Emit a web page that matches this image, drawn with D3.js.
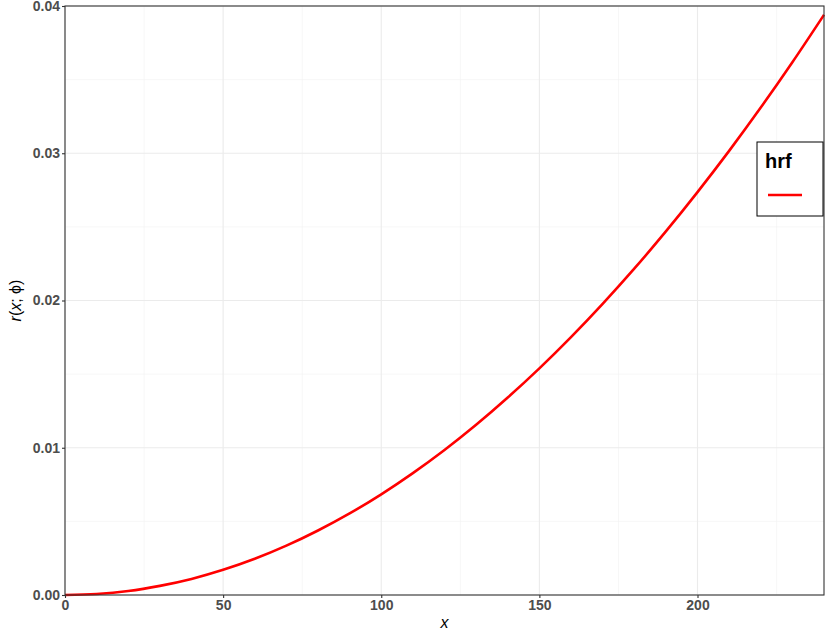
<!DOCTYPE html>
<html>
<head>
<meta charset="utf-8">
<script src="https://cdn.jsdelivr.net/npm/d3@7"></script>
<style>
  body { margin: 0; background: #fff; }
  svg { display: block; font-family: "Liberation Sans", Arial, sans-serif; }
</style>
</head>
<body>
<div id="chart"></div>
<script>
// values
const xs = [0, 10, 20, 30, 40, 50, 60, 70, 80, 90, 100, 110, 120,
  130, 140, 150, 160, 170, 180, 190, 200, 210, 220, 230, 240];
const hrf = [0, 0.00007, 0.00027, 0.00062, 0.00109, 0.00171, 0.00246, 0.00335,
  0.00438, 0.00554, 0.00684, 0.00828, 0.00985, 0.01156, 0.01341, 0.01539,
  0.01751, 0.01977, 0.02216, 0.02469, 0.02736, 0.03016, 0.0331, 0.03618, 0.0394];
const xTicks = [0, 50, 100, 150, 200];
const xMinor = [25, 75, 125, 175, 225];
const yTicks = [0, 0.01, 0.02, 0.03, 0.04];
const yMinor = [0.005, 0.015, 0.025, 0.035];
const legendTitle = 'hrf';

const W = 830, H = 637;
const margin = { top: 6, right: 6, bottom: 42, left: 65 };
const innerW = W - margin.left - margin.right;
const innerH = H - margin.top - margin.bottom;

const svg = d3.select('#chart').append('svg')
  .attr('width', W).attr('height', H);

const g = svg.append('g').attr('transform', `translate(${margin.left},${margin.top})`);

const x = d3.scaleLinear().domain([0, 240]).range([0, innerW]);
const y = d3.scaleLinear().domain([0, 0.04]).range([innerH, 0]);

// grid
g.append('g').selectAll('line').data(xMinor).join('line')
  .attr('x1', x).attr('x2', x).attr('y1', 0).attr('y2', innerH)
  .attr('stroke', '#f2f2f2').attr('stroke-width', 0.6);
g.append('g').selectAll('line').data(yMinor).join('line')
  .attr('y1', y).attr('y2', y).attr('x1', 0).attr('x2', innerW)
  .attr('stroke', '#f2f2f2').attr('stroke-width', 0.6);
g.append('g').selectAll('line').data(xTicks).join('line')
  .attr('x1', x).attr('x2', x).attr('y1', 0).attr('y2', innerH)
  .attr('stroke', '#ebebeb').attr('stroke-width', 1.1);
g.append('g').selectAll('line').data(yTicks).join('line')
  .attr('y1', y).attr('y2', y).attr('x1', 0).attr('x2', innerW)
  .attr('stroke', '#ebebeb').attr('stroke-width', 1.1);

// curve
const line = d3.line().x((d, i) => x(xs[i])).y((d) => y(d)).curve(d3.curveMonotoneX);
g.append('path').attr('d', line(hrf))
  .attr('fill', 'none').attr('stroke', '#ff0000').attr('stroke-width', 2.6);

// panel border
g.append('rect').attr('width', innerW).attr('height', innerH)
  .attr('fill', 'none').attr('stroke', '#333333').attr('stroke-width', 1.1);

// axes
const xAxisG = g.append('g').attr('transform', `translate(0,${innerH})`)
  .call(d3.axisBottom(x).tickValues(xTicks).tickSize(3).tickPadding(2).tickFormat(d3.format('d')));
const yAxisG = g.append('g')
  .call(d3.axisLeft(y).tickValues(yTicks).tickSize(3).tickPadding(2).tickFormat(d3.format('.2f')));
[xAxisG, yAxisG].forEach((ax) => {
  ax.select('.domain').remove();
  ax.selectAll('line').attr('stroke', '#333333').attr('stroke-width', 1.1);
  ax.selectAll('text').attr('fill', '#4d4d4d').attr('font-size', 14).attr('font-weight', 'bold');
});

// axis titles
svg.append('text').attr('x', margin.left + innerW / 2).attr('y', 628)
  .attr('text-anchor', 'middle').attr('font-size', 16).attr('font-style', 'italic')
  .text('x');
const yt = svg.append('text').attr('transform', `translate(21,${margin.top + innerH / 2}) rotate(-90)`)
  .attr('text-anchor', 'middle').attr('font-size', 16);
yt.append('tspan').attr('font-style', 'italic').text('r');
yt.append('tspan').text('(');
yt.append('tspan').attr('font-style', 'italic').text('x');
yt.append('tspan').text('; ϕ)');

// legend
const lg = svg.append('g').attr('transform', 'translate(757,142)');
lg.append('rect').attr('width', 66).attr('height', 74)
  .attr('fill', '#fff').attr('stroke', '#000').attr('stroke-width', 1);
lg.append('text').attr('x', 8).attr('y', 26).attr('font-size', 20).attr('font-weight', 'bold')
  .text(legendTitle);
lg.append('line').attr('x1', 11).attr('x2', 45).attr('y1', 53).attr('y2', 53)
  .attr('stroke', '#ff0000').attr('stroke-width', 2.6);
</script>
</body>
</html>
